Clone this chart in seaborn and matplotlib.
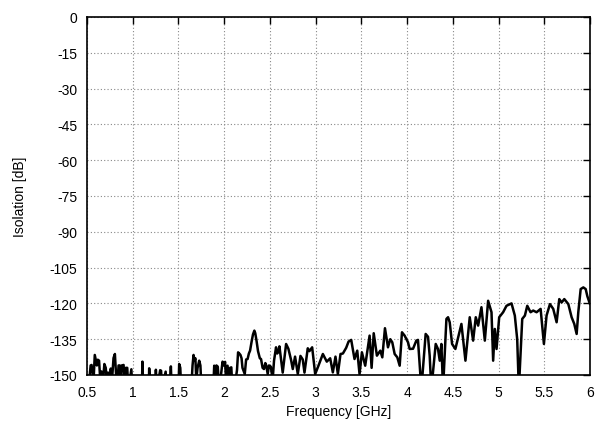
import matplotlib
matplotlib.use("Agg")
import matplotlib.pyplot as plt
import seaborn as sns
import numpy as np
import pandas as pd

# Frequency [GHz] / Isolation [dB], in bands
f1 = [0.500, 0.530, 0.540, 0.550, 0.560, 0.572, 0.585, 0.597, 0.608, 0.618, 0.632, 0.645, 0.658, 0.668, 0.690,
      0.705, 0.716, 0.730, 0.742, 0.760, 0.772, 0.790, 0.805, 0.818, 0.830, 0.845, 0.858, 0.868, 0.880, 0.900,
      0.915, 0.925, 0.940, 0.952, 0.985, 0.995, 1.100, 1.106, 1.115, 1.175, 1.180, 1.190, 1.245, 1.253, 1.265,
      1.300, 1.310, 1.320, 1.360, 1.370, 1.405, 1.417, 1.425, 1.500, 1.508, 1.520, 1.530]
i1 = [-158, -150, -146, -145.8, -149, -152, -141.6, -144, -146, -143.6, -144, -152, -148.5, -156, -145.4,
      -147, -152, -149, -156, -147.3, -153, -142.9, -141.2, -150, -156, -146, -146, -155, -146, -145.8,
      -156, -147, -147, -156, -147.6, -155, -156, -144.4, -156, -156, -147.2, -156, -156, -147.8, -156,
      -148, -148.2, -156, -148.6, -156, -156, -146.4, -155, -156, -145.4, -147, -156]

f2 = [1.640, 1.654, 1.665, 1.675, 1.685, 1.695, 1.709, 1.727, 1.740, 1.752, 1.880, 1.891, 1.905, 1.915, 1.930,
      1.945, 1.965, 1.982, 1.995, 2.010, 2.020, 2.037, 2.050, 2.065, 2.078, 2.090, 2.110, 2.140, 2.152, 2.165,
      2.178, 2.190, 2.200, 2.225, 2.240, 2.256, 2.270, 2.283, 2.300, 2.315, 2.330, 2.340, 2.355, 2.370, 2.390,
      2.403, 2.420, 2.435, 2.450, 2.460, 2.476, 2.490, 2.510, 2.530, 2.545, 2.567, 2.580, 2.596]
i2 = [-156, -146, -141.6, -144, -143, -152, -147, -144, -146, -156, -156, -146.1, -150, -146, -146.5,
      -156, -150, -144.4, -146, -144.5, -152, -146.1, -152, -147, -146.8, -156, -156, -148, -140.5, -141,
      -141.6, -143, -147, -149.6, -143.5, -143.3, -141, -139.8, -136, -133, -131.4, -132.5, -136, -140, -143,
      -143.3, -147, -147.5, -145, -146, -149.6, -146, -146.5, -152, -144, -138.4, -141, -140]

f3 = [2.604, 2.640, 2.677, 2.702, 2.732, 2.750, 2.775, 2.805, 2.834, 2.859, 2.878, 2.914, 2.932, 2.962, 2.995,
      3.031, 3.079, 3.122, 3.159, 3.188, 3.217, 3.243, 3.272, 3.298, 3.334, 3.360, 3.389, 3.425, 3.455, 3.480,
      3.506, 3.542, 3.590, 3.612, 3.635]
i3 = [-138, -149, -137, -139, -143.8, -147.5, -142.3, -149.6, -142, -143.5, -149, -138.8, -140, -138.4, -149.6,
      -146.1, -141.2, -144.4, -143, -148.9, -142.3, -149.6, -141.2, -141, -138.6, -136, -135.3, -143.3, -139.8, -149.6,
      -140.5, -146.1, -133.5, -147, -132.5]

f4 = [3.670, 3.707, 3.729, 3.758, 3.791, 3.816, 3.838, 3.864, 3.893, 3.919, 3.944, 3.973, 4.010]
i4 = [-141.9, -139.8, -142.6, -130.4, -138.4, -135, -136.3, -141.2, -142.6, -146.1, -132.1, -133.5, -136.3]

f5 = [4.028, 4.065, 4.101, 4.119, 4.156, 4.203, 4.229, 4.247, 4.265, 4.313, 4.338, 4.357, 4.375, 4.393, 4.430,
      4.448, 4.466, 4.492, 4.528, 4.594, 4.638, 4.685, 4.722, 4.751, 4.777, 4.813, 4.850, 4.886, 4.923, 4.941,
      4.959, 4.978, 5.007, 5.050, 5.087, 5.124, 5.142, 5.178, 5.204, 5.222, 5.259, 5.288, 5.314, 5.350, 5.379,
      5.416, 5.460, 5.496, 5.525, 5.562, 5.598, 5.635, 5.664, 5.690, 5.719, 5.763, 5.799, 5.828, 5.854, 5.872,
      5.898, 5.927, 5.953, 5.971, 6.000]
i5 = [-139.1, -139, -135.6, -135.3, -156, -132.8, -134, -141.9, -156, -137, -139.1, -144, -137, -156, -126.5,
      -125.8, -127.9, -137, -139.1, -128.6, -144, -125.8, -135.6, -125.8, -129.3, -121.6, -135.6, -118.9, -123.7, -144,
      -130.7, -139.1, -125.8, -123.7, -121, -120.3, -120, -125.1, -135, -156, -126.5, -125.1, -121, -123.7, -123,
      -123.7, -122.3, -137, -125.1, -120.3, -122.3, -127.9, -118.2, -119.6, -118.2, -120.3, -125.8, -128.6, -132.8, -123.7,
      -114, -113.3, -114, -117, -120.3]

x_ticks = [0.5, 1, 1.5, 2, 2.5, 3, 3.5, 4, 4.5, 5, 5.5, 6]
x_labels = ["0.5", "1", "1.5", "2", "2.5", "3", "3.5", "4", "4.5", "5", "5.5", "6"]
y_ticks = [0, -15, -30, -45, -60, -75, -90, -105, -120, -135, -150]

df = pd.DataFrame({"freq": f1 + f2 + f3 + f4 + f5,
                   "iso": i1 + i2 + i3 + i4 + i5})

sns.set_style("white")
plt.rcParams["font.family"] = ["Liberation Sans", "DejaVu Sans"]
plt.rcParams["text.color"] = "black"
plt.rcParams["axes.labelcolor"] = "black"

fig = plt.figure(figsize=(5.96, 4.31), dpi=100)
ax = fig.add_axes([87 / 596, (431 - 376) / 431, (590 - 87) / 596, (376 - 18) / 431])

sns.lineplot(data=df, x="freq", y="iso", ax=ax, color="black", linewidth=1.8,
             estimator=None, sort=False, clip_on=True)

ax.set_xlim(0.5, 6)
ax.set_ylim(-150, 0)
ax.set_xticks(x_ticks)
ax.set_xticklabels(x_labels)
ax.set_yticks(y_ticks)
ax.set_yticklabels([str(v) for v in y_ticks])
ax.grid(True, color="#888888", linestyle=(0, (1, 2)), linewidth=0.8)
ax.set_axisbelow(True)
for s in ax.spines.values():
    s.set_visible(True)
    s.set_color("black")
    s.set_linewidth(1.2)
ax.tick_params(direction="in", top=True, right=True, length=5, width=1, colors="black",
               labelsize=10, pad=7)
ax.set_xlabel("Frequency [GHz]", fontsize=10, labelpad=4, color="black")
ax.set_ylabel("Isolation [dB]", fontsize=10, labelpad=16, color="black")

fig.savefig("out.png", dpi=100)
